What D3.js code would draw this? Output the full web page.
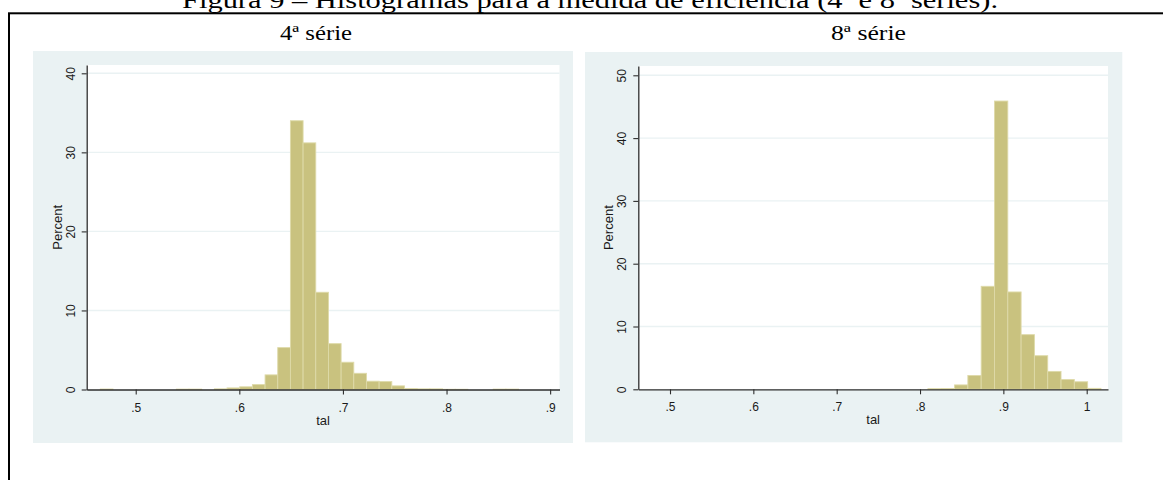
<!DOCTYPE html>
<html>
<head>
<meta charset="utf-8">
<script src="https://cdn.jsdelivr.net/npm/d3@7"></script>
<style>
  html, body { margin: 0; padding: 0; background: #ffffff; }
  svg { display: block; }
</style>
</head>
<body>
<script>
// Figure texts
const figureTitle = "Figura 9 – Histogramas para a medida de eficiência (4ª e 8ª séries).";
const panelTitles = ["4ª série", "8ª série"];
const xAxisTitle = "tal";
const yAxisTitle = "Percent";

// 4ª série: 33 bins of equal width starting at binStart4 (percent of schools per bin)
const binStart4 = 0.46582;
const binWidth4 = 0.012233;
const percent4 = [
  0.06, 0, 0, 0, 0, 0, 0.05, 0.05, 0, 0.08,
  0.2, 0.34, 0.62, 1.85, 5.3, 34.0, 31.2, 12.3, 5.8, 3.45,
  2.05, 1.05, 1.0, 0.46, 0.12, 0.08, 0.08, 0.03, 0.03, 0,
  0, 0.05, 0.05
];
const xTicks4 = [0.5, 0.6, 0.7, 0.8, 0.9];
const xTickLabels4 = [".5", ".6", ".7", ".8", ".9"];
const yTicks4 = [0, 10, 20, 30, 40];
const yTickLabels4 = ["0", "10", "20", "30", "40"];

// 8ª série: visible bins from binStart8
const binStart8 = 0.8095;
const binWidth8 = 0.01597;
const percent8 = [0.1, 0.12, 0.7, 2.2, 16.4, 45.9, 15.5, 8.7, 5.35, 2.85, 1.55, 1.2, 0.15];
const xTicks8 = [0.5, 0.6, 0.7, 0.8, 0.9, 1.0];
const xTickLabels8 = [".5", ".6", ".7", ".8", ".9", "1"];
const yTicks8 = [0, 10, 20, 30, 40, 50];
const yTickLabels8 = ["0", "10", "20", "30", "40", "50"];

const W = 1163, H = 480;
const serif = "'Liberation Serif', 'DejaVu Serif', 'Times New Roman', serif";
const sans = "'Liberation Sans', Arial, Helvetica, sans-serif";
const bgColor = "#eaf2f3";
const barFill = "#c9c27f";
const barEdge = "#dedaa9";
const axisColor = "#2e2e2e";

const svg = d3.select("body").append("svg")
  .attr("width", W).attr("height", H);

// Caption above the frame (partly clipped by the top edge)
svg.append("text")
  .attr("x", 182).attr("y", 7.5)
  .attr("font-family", serif).attr("font-size", 24)
  .attr("textLength", 816).attr("lengthAdjust", "spacingAndGlyphs")
  .attr("fill", "#000")
  .text(figureTitle);

// Frame around the figure
svg.append("rect")
  .attr("x", 9).attr("y", 13.3)
  .attr("width", 1400).attr("height", 700)
  .attr("fill", "none").attr("stroke", "#000").attr("stroke-width", 2);

// Panel titles
svg.append("text")
  .attr("x", 280).attr("y", 40)
  .attr("font-family", serif).attr("font-size", 21)
  .attr("textLength", 72).attr("lengthAdjust", "spacingAndGlyphs")
  .text(panelTitles[0]);
svg.append("text")
  .attr("x", 831).attr("y", 40)
  .attr("font-family", serif).attr("font-size", 21)
  .attr("textLength", 75).attr("lengthAdjust", "spacingAndGlyphs")
  .text(panelTitles[1]);

function drawPanel(cfg) {
  const g = svg.append("g");

  // graph region background
  g.append("rect")
    .attr("x", cfg.bg[0]).attr("y", cfg.bg[1])
    .attr("width", cfg.bg[2] - cfg.bg[0]).attr("height", cfg.bg[3] - cfg.bg[1])
    .attr("fill", bgColor);

  const x = d3.scaleLinear().domain(cfg.xDomain).range([cfg.plot[0], cfg.plot[2]]);
  const y = d3.scaleLinear().domain(cfg.yDomain).range([cfg.plot[3], cfg.plot[1]]);

  // plot region
  g.append("rect")
    .attr("x", cfg.plot[0]).attr("y", cfg.plot[1])
    .attr("width", cfg.plot[2] - cfg.plot[0]).attr("height", cfg.plot[3] - cfg.plot[1])
    .attr("fill", "#ffffff");

  // horizontal grid lines
  g.append("g").selectAll("line")
    .data(cfg.yTicks.filter(d => d > 0))
    .join("line")
    .attr("x1", cfg.plot[0]).attr("x2", cfg.plot[2])
    .attr("y1", d => y(d)).attr("y2", d => y(d))
    .attr("stroke", bgColor).attr("stroke-width", 1.4);

  // histogram bars
  g.append("g").selectAll("rect")
    .data(cfg.values.map((v, i) => ({
      x0: cfg.binStart + i * cfg.binWidth,
      x1: cfg.binStart + (i + 1) * cfg.binWidth,
      v
    })).filter(d => d.v > 0))
    .join("rect")
    .attr("x", d => x(d.x0))
    .attr("width", d => x(d.x1) - x(d.x0))
    .attr("y", d => y(d.v))
    .attr("height", d => y(0) - y(d.v))
    .attr("fill", barFill)
    .attr("stroke", barEdge)
    .attr("stroke-width", 0.9);

  // x axis
  const xAxis = g.append("g")
    .attr("transform", `translate(0,${cfg.plot[3]})`)
    .call(d3.axisBottom(x)
      .tickValues(cfg.xTicks)
      .tickFormat((d, i) => cfg.xTickLabels[i])
      .tickSize(5).tickSizeOuter(0).tickPadding(4));
  xAxis.select(".domain").attr("stroke", axisColor).attr("stroke-width", 1.3);
  xAxis.selectAll(".tick line").attr("stroke", axisColor).attr("stroke-width", 1.1);
  xAxis.selectAll(".tick text")
    .attr("font-family", sans).attr("font-size", 12).attr("fill", "#1a1a1a")
    .attr("y", 0).attr("dy", 0)
    .attr("transform", `translate(0,${cfg.xLabelBase - cfg.plot[3]})`);

  // y axis with rotated labels
  const yAxis = g.append("g")
    .attr("transform", `translate(${cfg.plot[0]},0)`)
    .call(d3.axisLeft(y)
      .tickValues(cfg.yTicks)
      .tickFormat((d, i) => cfg.yTickLabels[i])
      .tickSize(5).tickSizeOuter(0));
  yAxis.select(".domain").attr("stroke", axisColor).attr("stroke-width", 1.3);
  yAxis.selectAll(".tick line").attr("stroke", axisColor).attr("stroke-width", 1.1);
  yAxis.selectAll(".tick text")
    .attr("font-family", sans).attr("font-size", 12).attr("fill", "#1a1a1a")
    .attr("x", 0).attr("dy", 0).attr("text-anchor", "middle")
    .attr("transform", "translate(-12,0) rotate(-90)");

  // axis titles
  g.append("text")
    .attr("x", (cfg.plot[0] + cfg.plot[2]) / 2).attr("y", cfg.xTitleBase)
    .attr("text-anchor", "middle")
    .attr("font-family", sans).attr("font-size", 13).attr("fill", "#1a1a1a")
    .text(xAxisTitle);
  g.append("text")
    .attr("transform", `translate(${cfg.plot[0] - 25},${(cfg.plot[1] + cfg.plot[3]) / 2}) rotate(-90)`)
    .attr("text-anchor", "middle")
    .attr("font-family", sans).attr("font-size", 13).attr("fill", "#1a1a1a")
    .text(yAxisTitle);
}

drawPanel({
  bg: [33, 51, 573, 443],
  plot: [86.7, 65, 559.5, 389.5],
  xDomain: [0.45269, 0.90903],
  yDomain: [0, 41.05],
  binStart: binStart4, binWidth: binWidth4, values: percent4,
  xTicks: xTicks4, xTickLabels: xTickLabels4,
  yTicks: yTicks4, yTickLabels: yTickLabels4,
  xLabelBase: 411.5, xTitleBase: 425
});

drawPanel({
  bg: [585, 52, 1122.3, 442.3],
  plot: [638.3, 66, 1108, 389.3],
  xDomain: [0.46196, 1.02556],
  yDomain: [0, 51.48],
  binStart: binStart8, binWidth: binWidth8, values: percent8,
  xTicks: xTicks8, xTickLabels: xTickLabels8,
  yTicks: yTicks8, yTickLabels: yTickLabels8,
  xLabelBase: 411, xTitleBase: 424
});
</script>
</body>
</html>
